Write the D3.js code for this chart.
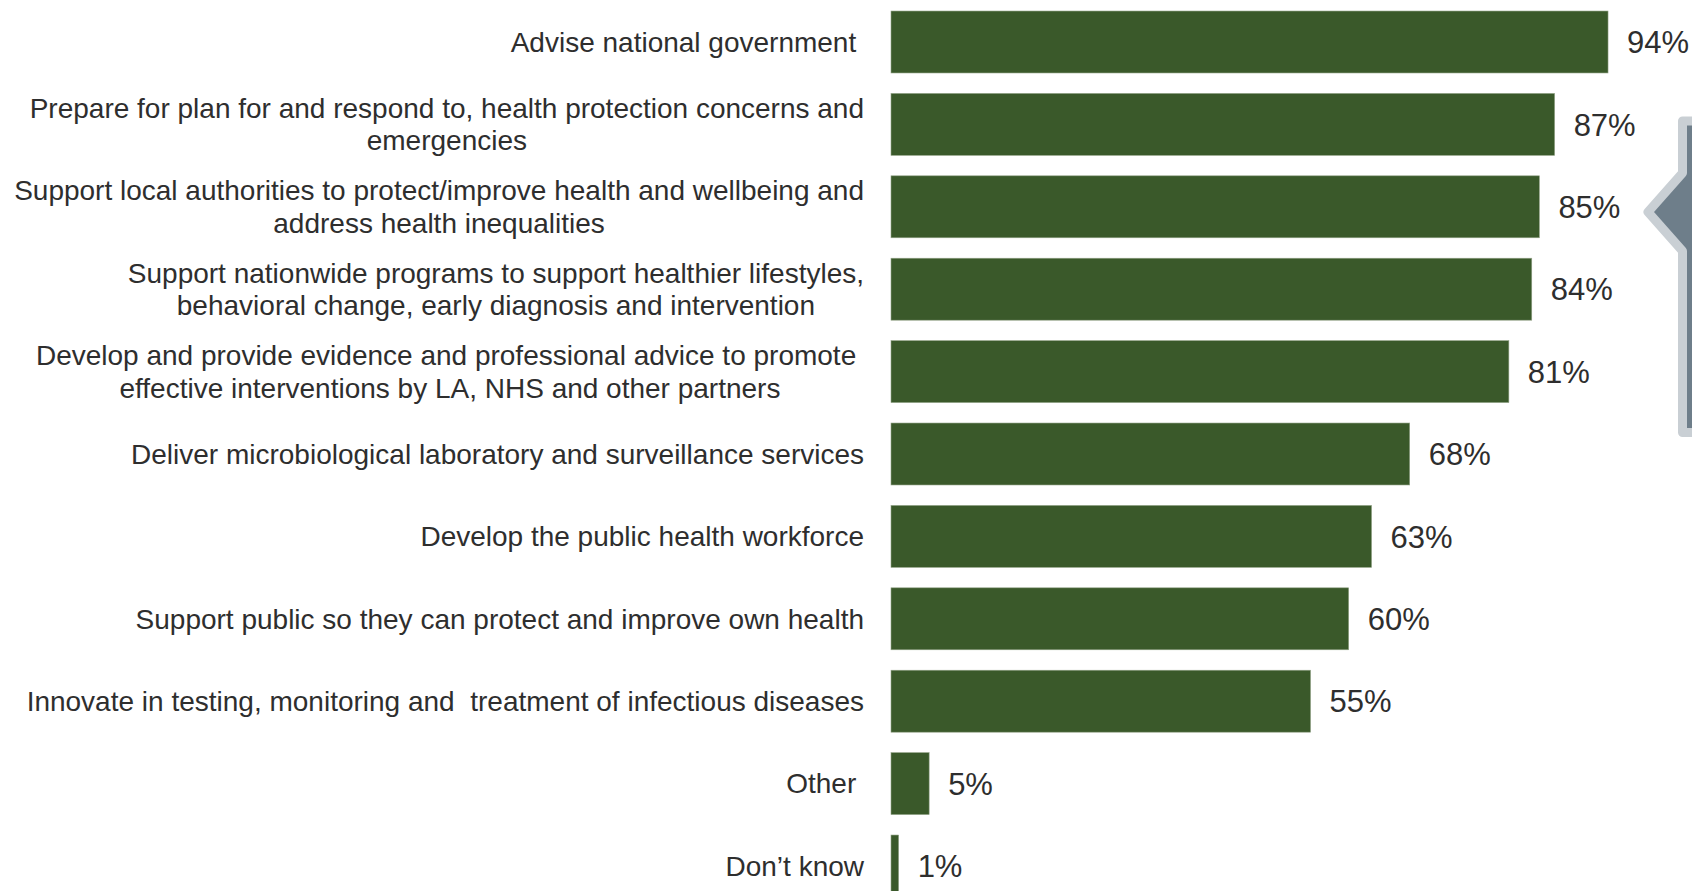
<!DOCTYPE html>
<html>
<head>
<meta charset="utf-8">
<script src="https://cdn.jsdelivr.net/npm/d3@7"></script>
<style>
  html, body { margin: 0; padding: 0; background: #ffffff; overflow: hidden; }
  svg { display: block; }
  text { font-family: "Liberation Sans", Arial, sans-serif; fill: #2e2e2e; white-space: pre; }
</style>
</head>
<body>
<svg id="chart" width="1692" height="891"></svg>
<script>
// Roles respondents think the agency should take on (% of respondents)
const categories = [
  "Advise national government ",
  "Prepare for plan for and respond to, health protection concerns and\nemergencies",
  "Support local authorities to protect/improve health and wellbeing and\naddress health inequalities",
  "Support nationwide programs to support healthier lifestyles,\nbehavioral change, early diagnosis and intervention",
  "Develop and provide evidence and professional advice to promote \neffective interventions by LA, NHS and other partners",
  "Deliver microbiological laboratory and surveillance services",
  "Develop the public health workforce",
  "Support public so they can protect and improve own health",
  "Innovate in testing, monitoring and  treatment of infectious diseases",
  "Other ",
  "Don\u2019t know"
];
const values = [94, 87, 85, 84, 81, 68, 63, 60, 55, 5, 1];
const valueLabels = ["94%", "87%", "85%", "84%", "81%", "68%", "63%", "60%", "55%", "5%", "1%"];

const W = 1692, H = 891;
const barColor = "#3a592a";
const labelFont = "28px 'Liberation Sans', Arial, sans-serif";
const labelRight = 864;
const lineGap = 32.4;

const svg = d3.select("#chart");

const x = d3.scaleLinear().domain([0, 100]).range([891, 891 + 762.8]);
const y = d3.scaleBand()
  .domain(categories)
  .range([0.8, 0.8 + 82.4 * 11])
  .paddingInner(0.248)
  .paddingOuter(0.124);

// Bars
svg.append("g").selectAll("rect")
  .data(categories)
  .join("rect")
  .attr("x", x(0))
  .attr("y", d => y(d))
  .attr("width", (d, i) => x(values[i]) - x(0))
  .attr("height", y.bandwidth())
  .attr("fill", barColor)
  .attr("stroke", "#93a388")
  .attr("stroke-width", 0.6);

// Value labels
svg.append("g").selectAll("text")
  .data(categories)
  .join("text")
  .attr("x", (d, i) => x(values[i]) + 19)
  .attr("y", d => y(d) + y.bandwidth() / 2)
  .attr("dy", "0.36em")
  .style("font-size", "31px")
  .text((d, i) => valueLabels[i]);

// Category labels: lines centred within a block whose right edge is fixed
const ctx = document.createElement("canvas").getContext("2d");
ctx.font = labelFont;
const labelG = svg.append("g");
categories.forEach(cat => {
  const lines = cat.split("\n");
  const blockW = d3.max(lines, l => ctx.measureText(l).width);
  const cx = labelRight - blockW / 2;
  const cy = y(cat) + y.bandwidth() / 2;
  lines.forEach((line, k) => {
    labelG.append("text")
      .attr("x", cx)
      .attr("y", cy + (k - (lines.length - 1) / 2) * lineGap)
      .attr("dy", "0.35em")
      .attr("text-anchor", "middle")
      .style("font-size", "28px")
      .text(line);
  });
});

// Bracket callout at the right edge
const callout = d3.path();
callout.moveTo(W + 20, 121);
callout.lineTo(1682.5, 121);
callout.lineTo(1682.5, 173);
callout.lineTo(1648, 212);
callout.lineTo(1682.5, 251);
callout.lineTo(1682.5, 432.5);
callout.lineTo(W + 20, 432.5);
callout.closePath();
svg.append("path")
  .attr("d", callout.toString())
  .attr("fill", "#6e7e8a")
  .attr("stroke", "#c9cfd4")
  .attr("stroke-width", 9)
  .attr("stroke-linejoin", "round");
</script>
</body>
</html>
